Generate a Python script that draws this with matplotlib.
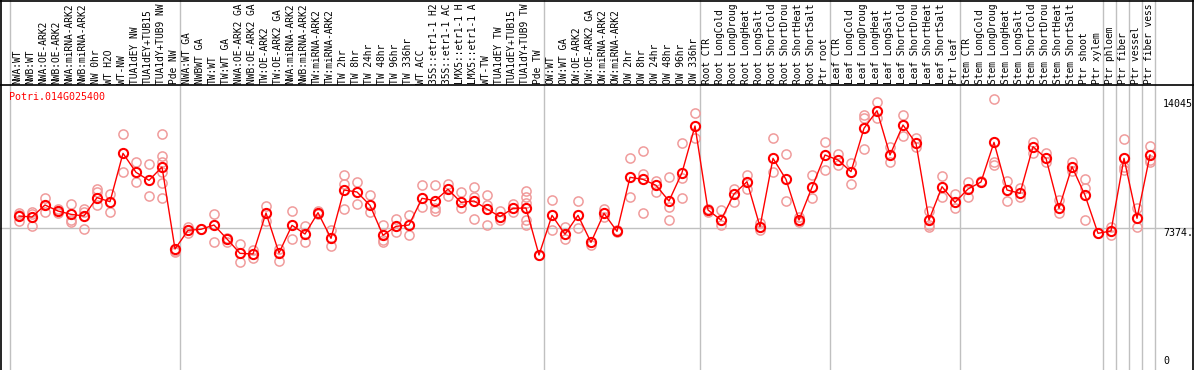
import matplotlib

matplotlib.use("Agg")
import matplotlib.pyplot as plt

# sample labels, in plotting order
group_nw = ["NWA:WT", "NWB:WT", "NWA:OE-ARK2", "NWB:OE-ARK2", "NWA:miRNA-ARK2",
            "NWB:miRNA-ARK2", "NW 0hr", "WT H2O", "WT-NW", "TUA1dEY NW",
            "TUA1dEY+TUB15 NW", "TUA1dY+TUB9 NW", "Pde NW"]
group_tw = ["NWA:WT GA", "NWBWT GA", "TW:WT", "TW:WT GA", "NWA:OE-ARK2 GA",
            "NWB:OE-ARK2 GA", "TW:OE-ARK2", "TW:OE-ARK2 GA", "NWA:miRNA-ARK2 GA",
            "NWB:miRNA-ARK2 GA", "TW:miRNA-ARK2", "TW:miRNA-ARK2 GA", "TW 2hr",
            "TW 8hr", "TW 24hr", "TW 48hr", "TW 96hr", "TW 336hr", "WT ACC",
            "35S::etr1-1 H2O", "35S::etr1-1 ACC", "LMX5::etr1-1 H2O",
            "LMX5::etr1-1 ACC", "WT-TW", "TUA1dEY TW", "TUA1dEY+TUB15 TW",
            "TUA1dY+TUB9 TW", "Pde TW"]
group_ow = ["OW:WT", "OW:WT GA", "OW:OE-ARK2", "OW:OE-ARK2 GA", "OW:miRNA-ARK2",
            "OW:miRNA-ARK2 GA", "OW 2hr", "OW 8hr", "OW 24hr", "OW 48hr",
            "OW 96hr", "OW 336hr"]
stress = ["CTR", "LongCold", "LongDrought", "LongHeat", "LongSalt",
          "ShortCold", "ShortDrought", "ShortHeat", "ShortSalt"]
group_root = [f"Root {s}" for s in stress] + ["Ptr root"]
group_leaf = [f"Leaf {s}" for s in stress] + ["Ptr leaf"]
group_stem = [f"Stem {s}" for s in stress] + ["Ptr shoot", "Ptr xylem"]
group_ptr = ["Ptr phloem", "Ptr fiber", "Ptr vessel", "Ptr fiber vessel"]

groups = [group_nw, group_tw, group_ow, group_root, group_leaf, group_stem,
          ["Ptr phloem"], ["Ptr fiber"], ["Ptr vessel"], ["Ptr fiber vessel"]]
samples = group_nw + group_tw + group_ow + group_root + group_leaf + group_stem + group_ptr

# the chart only has room for 14 characters per label
label_chars = 14

gene_id = "Potri.014G025400"
max_value = 14045
mid_value = 7374

means = [
    7996, 7944, 8567, 8255, 8082, 7996, 8948, 8740, 11250, 10264, 9848, 10540, 6282,
    7252, 7305, 7528, 6801, 6057, 6023, 8151, 6075, 7511, 7061, 8168, 6836, 9346,
    9242, 8550, 6992, 7459, 7528, 8913, 8792, 9382, 8705, 8774, 8359, 7961, 8394,
    8411, 5971,
    8030, 7045, 8030, 6628, 8134, 7200, 10004, 9898, 9589, 8774, 10246, 12669,
    8307, 7788, 9138, 9777, 7442, 10990, 9898, 7788, 9486, 11163,
    10903, 10298, 12548, 13463, 11163, 12721, 11768, 7788, 9517, 8705,
    9398, 9761, 11820, 9346, 9173, 11596, 10990, 8394, 10557, 9070, 7097,
    7217, 10990, 7876, 11163,
]

replicates = [
    [8170, 7750, 8050], [8186, 7460, 8100], [8913, 8220], [8343, 8168],
    [8602, 7788, 7700], [8343, 7321, 8200], [9382, 9258, 8550], [9122, 8220],
    [12237, 10296], [10784, 9777], [10696, 9034],
    [12237, 11111, 10815, 10264, 9693, 8913], [6195, 6109],
    [7442, 7097], [7321], [8082, 6628], [6870, 6663], [6524, 5590], [6230, 5832],
    [8532, 7736], [5642, 6300], [8255, 6801], [7477, 6663], [8272, 8100],
    [7269, 6455], [10124, 9641, 8359], [9745, 8602], [9070, 8186],
    [7528, 6750, 6628], [7823, 7183], [8030, 6992], [9589, 8480],
    [9589, 8394, 8272], [9673, 9034], [9242, 8394], [9486, 8999, 7823],
    [9070, 8567, 7528], [8272, 7788], [8619, 8220],
    [9311, 8965, 8654, 7788, 7528], [5971],
    [8826, 7269], [7425, 6801], [8774, 7355], [6490], [8343, 7961], [7150, 7250],
    [10990, 8999], [11370, 10177, 8134], [9829, 9258], [10004, 8480, 7788],
    [11768, 9950, 8913], [13328, 12030],
    [8376, 8220], [8307, 7528], [9382, 8740], [10124, 9382], [7657, 7269],
    [12030, 10298], [11215, 8774], [7961, 7700], [10124, 8913], [11820, 10384],
    [11199, 10643], [10730, 9658], [13240, 13068, 11458], [13900, 13068],
    [11596, 10816], [13240, 12150], [12030, 11562], [8272, 7528, 7442],
    [10072, 8965], [9138, 8394],
    [9777, 8999], [9829], [14045, 10816, 10643], [9829, 8774], [9434, 8965],
    [11855, 11250], [11250, 10816], [8826, 8168], [10816, 10332],
    [9898, 9434, 7788], [7097],
    [7425, 7009], [11993, 10557, 10384], [8394, 7442], [11630, 10903, 10816],
]

W, H = 1194, 370
x0_px, x_step_px = 19, 13          # pixel of first sample and spacing
units_per_px = 51.92               # expression units per pixel row


def px_x(px):
    return (px - x0_px) / x_step_px


def px_y(px):
    return (H - px) * units_per_px


fig = plt.figure(figsize=(W / 100, H / 100), dpi=100)
ax = fig.add_axes([0, 0, 1, 1])
ax.set_xlim(px_x(0), px_x(W))
ax.set_ylim(px_y(H), px_y(0))
ax.axis("off")

gray = "#c0c0c0"
mono = "DejaVu Sans Mono"
fsize = 6.9

# group separators
ax.axvline(px_x(10), color=gray, lw=1)
pos = -1
for g in groups:
    pos += len(g)
    ax.axvline(pos + 0.4, color=gray, lw=1)
ax.axhline(mid_value, color=gray, lw=1)

# frame
ax.axvline(px_x(1), color="black", lw=1.2)
ax.axvline(px_x(1193), color="black", lw=1.2)
ax.axhline(px_y(0.5), color="black", lw=1.2)
ax.axhline(px_y(85), color="black", lw=1.2)

xs = list(range(len(samples)))
for i, reps in enumerate(replicates):
    ax.plot([i] * len(reps), reps, "o", ms=6.6, mfc="none", mec="#f09c9c",
            mew=1.1, zorder=3)
ax.plot(xs, means, "-", color="red", lw=1.0, zorder=4)
ax.plot(xs, means, "o", ms=6.6, mfc="none", mec="red", mew=1.5, zorder=5)

for i, name in enumerate(samples):
    ax.text(i - 0.1, px_y(84), name[:label_chars].rstrip(), rotation=90,
            ha="center", va="bottom", family=mono, fontsize=fsize)

ax.text(px_x(9), px_y(97.5), gene_id, color="red", family=mono, fontsize=7.2,
        ha="left", va="center")

ax.text(px_x(1163), max_value, f"{max_value}", family=mono, fontsize=7.2,
        ha="left", va="top")
ax.text(px_x(1163), mid_value, f"{mid_value}.", family=mono, fontsize=7.2,
        ha="left", va="top")
ax.text(px_x(1163), px_y(366), "0", family=mono, fontsize=7.2,
        ha="left", va="bottom")

fig.savefig("out.png", dpi=100)
